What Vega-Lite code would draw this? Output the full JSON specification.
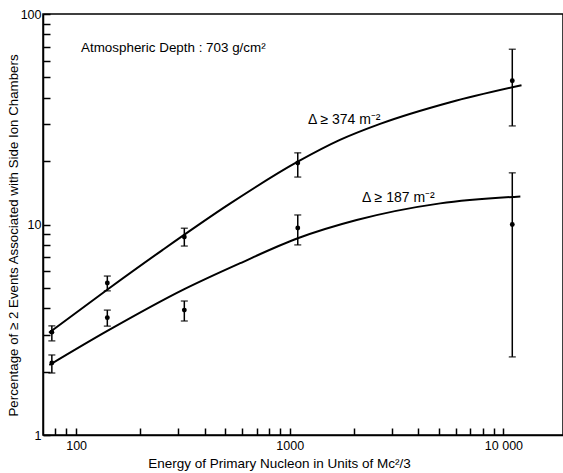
{
  "$schema": "https://vega.github.io/schema/vega-lite/v6.json",
  "width": 520,
  "height": 421,
  "autosize": {"type": "none"},
  "padding": {"left": 43, "top": 14, "right": 0, "bottom": 38},
  "background": "white",
  "config": {
    "font": "Liberation Sans",
    "view": {"stroke": "black", "strokeWidth": 1.5},
    "axis": {
      "grid": false,
      "domainColor": "black",
      "domainWidth": 1.5,
      "tickColor": "black",
      "tickWidth": 1.5,
      "tickSize": -7,
      "labelColor": "black",
      "labelFont": "Liberation Sans",
      "labelFontSize": 12.5,
      "titleColor": "black",
      "titleFont": "Liberation Sans",
      "titleFontSize": 13,
      "titleFontWeight": "normal"
    }
  },
  "datasets": {
    "pts": [
      {"s": "374", "E": 77, "v": 3.08, "lo": 2.8, "hi": 3.3},
      {"s": "374", "E": 140, "v": 5.27, "lo": 4.84, "hi": 5.69},
      {"s": "374", "E": 321, "v": 8.72, "lo": 7.9, "hi": 9.6},
      {"s": "374", "E": 1090, "v": 19.6, "lo": 16.8, "hi": 21.9},
      {"s": "374", "E": 11000, "v": 48.2, "lo": 29.4, "hi": 68},
      {"s": "187", "E": 77, "v": 2.2, "lo": 1.97, "hi": 2.4},
      {"s": "187", "E": 140, "v": 3.61, "lo": 3.29, "hi": 3.92},
      {"s": "187", "E": 321, "v": 3.92, "lo": 3.48, "hi": 4.33},
      {"s": "187", "E": 1090, "v": 9.62, "lo": 8.0, "hi": 11.1},
      {"s": "187", "E": 11000, "v": 10.0, "lo": 2.35, "hi": 17.6}
    ],
    "curves": [
      {"s": "374", "E": 74.7, "v": 3.06},
      {"s": "374", "E": 141.3, "v": 4.94},
      {"s": "374", "E": 253.4, "v": 7.56},
      {"s": "374", "E": 522.7, "v": 12.53},
      {"s": "374", "E": 1090, "v": 19.88},
      {"s": "374", "E": 1717, "v": 25.23},
      {"s": "374", "E": 2646, "v": 30.06},
      {"s": "374", "E": 5639, "v": 38.1},
      {"s": "374", "E": 12150, "v": 45.9},
      {"s": "187", "E": 75, "v": 2.15},
      {"s": "187", "E": 140, "v": 3.12},
      {"s": "187", "E": 321, "v": 4.93},
      {"s": "187", "E": 582, "v": 6.53},
      {"s": "187", "E": 1090, "v": 8.6},
      {"s": "187", "E": 2056, "v": 10.5},
      {"s": "187", "E": 5060, "v": 12.6},
      {"s": "187", "E": 12000, "v": 13.6}
    ],
    "labels": [
      {"t": "Atmospheric Depth : 703 g/cm²", "E": 105.5, "v": 68.9, "k": "a"},
      {"t": "Δ ≥ 374 m⁻²", "E": 1216, "v": 31.4, "k": "b"},
      {"t": "Δ ≥ 187 m⁻²", "E": 2180, "v": 13.4, "k": "b"}
    ]
  },
  "layer": [
    {
      "data": {"name": "curves"},
      "mark": {"type": "line", "interpolate": "monotone", "color": "black", "strokeWidth": 2},
      "encoding": {
        "x": {
          "field": "E", "type": "quantitative",
          "scale": {"type": "log", "domain": [70, 19000], "nice": false},
          "axis": {
            "title": "Energy of Primary Nucleon in Units of Mc²/3",
            "values": [80, 90, 100, 200, 300, 400, 500, 600, 700, 800, 900, 1000, 2000, 3000, 4000, 5000, 6000, 7000, 8000, 9000, 10000],
            "labelExpr": "datum.value == 100 ? '100' : datum.value == 1000 ? '1000' : datum.value == 10000 ? '10 000' : ''",
            "labelPadding": 11,
            "titleX": 236,
            "titleY": 28,
            "titleFontSize": 13.5,
            "titleBaseline": "middle"
          }
        },
        "y": {
          "field": "v", "type": "quantitative",
          "scale": {"type": "log", "domain": [1, 100], "nice": false},
          "axis": {
            "title": "Percentage of ≥ 2 Events Associated with Side Ion Chambers",
            "values": [1, 2, 3, 4, 5, 6, 7, 8, 9, 10, 20, 30, 40, 50, 60, 70, 80, 90, 100],
            "labelExpr": "datum.value == 1 ? '1' : datum.value == 10 ? '10' : datum.value == 100 ? '100' : ''",
            "labelPadding": 9,
            "titleX": -30,
            "titleY": 221,
            "titleFontSize": 13.3,
            "titleAngle": -90,
            "titleAlign": "center",
            "titleBaseline": "middle"
          }
        },
        "detail": {"field": "s", "type": "nominal"}
      }
    },
    {
      "data": {"name": "pts"},
      "mark": {"type": "rule", "color": "black", "strokeWidth": 1.5},
      "encoding": {
        "x": {"field": "E", "type": "quantitative", "title": "Energy of Primary Nucleon in Units of Mc²/3"},
        "y": {"field": "lo", "type": "quantitative", "title": "Percentage of ≥ 2 Events Associated with Side Ion Chambers"},
        "y2": {"field": "hi"}
      }
    },
    {
      "data": {"name": "pts"},
      "mark": {"type": "tick", "orient": "horizontal", "color": "black", "size": 7, "thickness": 1.5},
      "encoding": {
        "x": {"field": "E", "type": "quantitative", "title": "Energy of Primary Nucleon in Units of Mc²/3"},
        "y": {"field": "lo", "type": "quantitative", "title": "Percentage of ≥ 2 Events Associated with Side Ion Chambers"}
      }
    },
    {
      "data": {"name": "pts"},
      "mark": {"type": "tick", "orient": "horizontal", "color": "black", "size": 7, "thickness": 1.5},
      "encoding": {
        "x": {"field": "E", "type": "quantitative", "title": "Energy of Primary Nucleon in Units of Mc²/3"},
        "y": {"field": "hi", "type": "quantitative", "title": "Percentage of ≥ 2 Events Associated with Side Ion Chambers"}
      }
    },
    {
      "data": {"name": "pts"},
      "mark": {"type": "point", "filled": true, "color": "black", "size": 24, "opacity": 1},
      "encoding": {
        "x": {"field": "E", "type": "quantitative", "title": "Energy of Primary Nucleon in Units of Mc²/3"},
        "y": {"field": "v", "type": "quantitative", "title": "Percentage of ≥ 2 Events Associated with Side Ion Chambers"}
      }
    },
    {
      "data": {"name": "labels"},
      "mark": {"type": "text", "align": "left", "baseline": "middle", "color": "black", "font": "Liberation Sans"},
      "encoding": {
        "x": {"field": "E", "type": "quantitative", "title": "Energy of Primary Nucleon in Units of Mc²/3"},
        "y": {"field": "v", "type": "quantitative", "title": "Percentage of ≥ 2 Events Associated with Side Ion Chambers"},
        "text": {"field": "t", "type": "nominal"},
        "size": {"field": "k", "type": "nominal", "scale": {"domain": ["a", "b"], "range": [13.4, 14]}, "legend": null}
      }
    }
  ]
}
